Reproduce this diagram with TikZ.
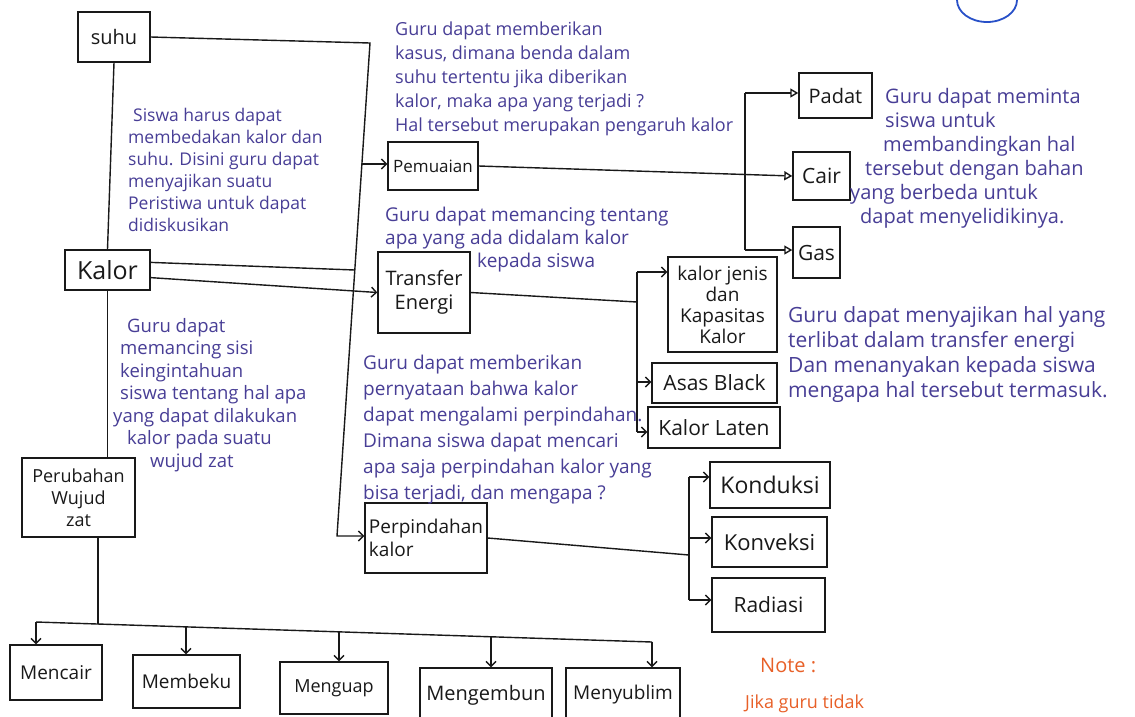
\documentclass[tikz,border=0pt]{standalone}
\usepackage{fontspec}
\setmainfont{Open Sans}
\usetikzlibrary{arrows.meta,calc}
\newcommand{\myfs}[2]{\fontsize{#1pt}{#2pt}\selectfont}
\definecolor{ink}{RGB}{72,62,150}
\definecolor{pen}{RGB}{25,25,25}
\definecolor{noteorange}{RGB}{232,96,40}
\definecolor{circblue}{RGB}{40,80,200}
\begin{document}
\begin{tikzpicture}[x=1pt,y=-1pt,
 box/.style={draw=pen, line width=1.4pt, align=center, inner sep=0pt, text=pen, font=\myfs{20}{22}},
 note/.style={text=ink, align=left, inner sep=0pt, anchor=north west},
 wire/.style={draw=pen, line width=1.4pt},
 arr/.style={wire, -{Straight Barb[length=5pt,width=10pt]}},
 tri/.style={wire, -{Triangle[open,length=8pt,width=9pt]}},
]
\useasboundingbox (0,0) rectangle (1135,716);
\fill[white] (0,0) rectangle (1135,716);

% boxes
\node[box, minimum width=72pt, minimum height=50pt] (suhu) at (114,37) {suhu};
\node[box, minimum width=85pt, minimum height=40pt, font=\myfs{25}{27}] (kalor) at (107.5,270) {Kalor};
\node[box, minimum width=113pt, minimum height=79pt, font=\myfs{18}{22}] (perub) at (78.5,497.5) {Perubahan\\Wujud\\zat};
\node[box, minimum width=90pt, minimum height=48pt, font=\myfs{17}{20}] (pemuaian) at (433,166) {Pemuaian};
\node[box, minimum width=92pt, minimum height=81pt, font=\myfs{20}{24}] (transfer) at (424,292.5) {Transfer\\Energi};
\node[box, minimum width=122pt, minimum height=70pt, font=\myfs{19}{23}, align=left] (perp) at (426,538) {Perpindahan\\kalor};
\node[box, minimum width=73pt, minimum height=45pt] (padat) at (835.5,95.5) {Padat};
\node[box, minimum width=57pt, minimum height=48pt, font=\myfs{21}{23}] (cair) at (821.5,176) {Cair};
\node[box, minimum width=47pt, minimum height=51pt, font=\myfs{21}{23}] (gas) at (816.5,252.5) {Gas};
\node[box, minimum width=109pt, minimum height=95pt, font=\myfs{19}{21}] (kj) at (722.5,304.5) {kalor jenis\\dan\\Kapasitas\\Kalor};
\node[box, minimum width=125pt, minimum height=40pt, font=\myfs{21}{23}] (asas) at (714.5,383) {Asas Black};
\node[box, minimum width=132pt, minimum height=41pt, font=\myfs{21}{23}] (laten) at (714,427.5) {Kalor Laten};
\node[box, minimum width=120pt, minimum height=46pt, font=\myfs{23}{25}] (kond) at (770,485) {Konduksi};
\node[box, minimum width=115pt, minimum height=50pt, font=\myfs{22}{24}] (konv) at (769.5,542) {Konveksi};
\node[box, minimum width=113pt, minimum height=54pt, font=\myfs{21}{23}] (rad) at (768.5,605) {Radiasi};
\node[box, minimum width=92pt, minimum height=55pt, font=\myfs{19}{21}] (mencair) at (56,672.5) {Mencair};
\node[box, minimum width=107pt, minimum height=53pt, font=\myfs{19}{21}] (membeku) at (186.5,681.5) {Membeku};
\node[box, minimum width=108pt, minimum height=52pt, font=\myfs{18}{21}] (menguap) at (334,688) {Menguap};
\node[box, minimum width=132pt, minimum height=54pt, font=\myfs{20}{22}] (mengembun) at (486,695) {Mengembun};
\node[box, minimum width=114pt, minimum height=54pt, font=\myfs{19}{21}] (menyublim) at (623,695) {Menyublim};

% left bus
\coordinate (bt) at (370,43);
\coordinate (bb) at (337,536);
\coordinate (bp) at (362,164);
\coordinate (bk) at (354.8,270);
\draw[arr] (suhu.east) -- (bt) -- (bb) -- (bb -| perp.west);
\draw[arr] (bp) -- (bp -| pemuaian.west);
\draw[wire] (kalor.10) -- (bk);
\draw[arr] (kalor.-10) -- (transfer.west);
\draw[wire] (suhu.south) -- (kalor.north);
\draw[wire] (kalor.south) -- (kalor.south |- perub.north);

% bottom bus
\coordinate (pv) at (98,624);
\coordinate (bl) at (36,622);
\coordinate (br) at (652,642);
\coordinate (b2) at (186,626.9);
\coordinate (b3) at (339,631.8);
\coordinate (b4) at (491,636.8);
\draw[wire] (perub.south -| pv) -- (pv);
\draw[wire] (bl) -- (br);
\draw[arr] (bl) -- (bl |- mencair.north);
\draw[arr] (b2) -- (b2 |- membeku.north);
\draw[arr] (b3) -- (b3 |- menguap.north);
\draw[arr] (b4) -- (b4 |- mengembun.north);
\draw[arr] (br) -- (br |- menyublim.north);

% pemuaian branches
\coordinate (pt) at (745,93);
\coordinate (pg) at (745,250);
\draw[tri] (pemuaian.east) -- (cair.west);
\draw[wire] (pt) -- (pg);
\draw[tri] (pt) -- (pt -| padat.west);
\draw[tri] (pg) -- (pg -| gas.west);

% transfer branches
\coordinate (tj) at (637,302);
\coordinate (tk) at (637,272);
\coordinate (ta) at (637,382);
\coordinate (tl) at (637,432);
\draw[wire] (transfer.east) -- (tj);
\draw[wire] (tk) -- (tl);
\draw[arr] (tk) -- (tk -| kj.west);
\draw[arr] (ta) -- (ta -| asas.west);
\draw[arr] (tl) -- (tl -| laten.west);

% perpindahan branches
\coordinate (pj) at (689,555);
\coordinate (pk) at (689,477);
\coordinate (pc) at (689,538);
\coordinate (pr) at (689,600);
\draw[wire] (perp.east) -- (pj);
\draw[wire] (pk) -- (pr);
\draw[arr] (pk) -- (pk -| kond.west);
\draw[arr] (pc) -- (pc -| konv.west);
\draw[arr] (pr) -- (pr -| rad.west);

% notes
\node[note, font=\myfs{18}{24}] (noteA) at (395,22) {Guru dapat memberikan\\kasus, dimana benda dalam\\suhu tertentu jika diberikan\\kalor, maka apa yang terjadi ?\\Hal tersebut merupakan pengaruh kalor};
\node[note, font=\myfs{17.5}{22}] (noteB) at (128,108) {\hspace*{5pt}Siswa harus dapat\\membedakan kalor dan\\suhu. Disini guru dapat\\menyajikan suatu\\Peristiwa untuk dapat\\didiskusikan};
\node[note, font=\myfs{19}{23}] (noteC) at (385,207) {Guru dapat memancing tentang\\apa yang ada didalam kalor\\\hspace*{92pt}kepada siswa};
\node[note, font=\myfs{20}{24}] (noteD) at (850,88) {\hspace*{35pt}Guru dapat meminta\\\hspace*{35pt}siswa untuk\\\hspace*{33pt}membandingkan hal\\\hspace*{15pt}tersebut dengan bahan\\yang berbeda untuk\\\hspace*{10pt}dapat menyelidikinya.};
\node[note, font=\myfs{21}{25}] (noteE) at (788,306) {Guru dapat menyajikan hal yang\\terlibat dalam transfer energi\\Dan menanyakan kepada siswa\\mengapa hal tersebut termasuk.};
\node[note, font=\myfs{18.5}{22.5}] (noteF) at (113,318) {\hspace*{14pt}Guru dapat\\\hspace*{7pt}memancing sisi\\\hspace*{7pt}keingintahuan\\\hspace*{7pt}siswa tentang hal apa\\yang dapat dilakukan\\\hspace*{14pt}kalor pada suatu\\\hspace*{37pt}wujud zat};
\node[note, font=\myfs{19}{26}] (noteG) at (363,355) {Guru dapat memberikan\\pernyataan bahwa kalor\\dapat mengalami perpindahan.\\Dimana siswa dapat mencari\\apa saja perpindahan kalor yang\\bisa terjadi, dan mengapa ?};
\node[note, text=noteorange, font=\myfs{20}{24}] (noteH) at (760,658) {Note :};
\node[note, text=noteorange, font=\myfs{18}{22}] (noteI) at (745,695) {Jika guru tidak};

% corner mark
\draw[circblue, line width=1.8pt] (987,0) ellipse [x radius=30, y radius=22];
\end{tikzpicture}
\end{document}
